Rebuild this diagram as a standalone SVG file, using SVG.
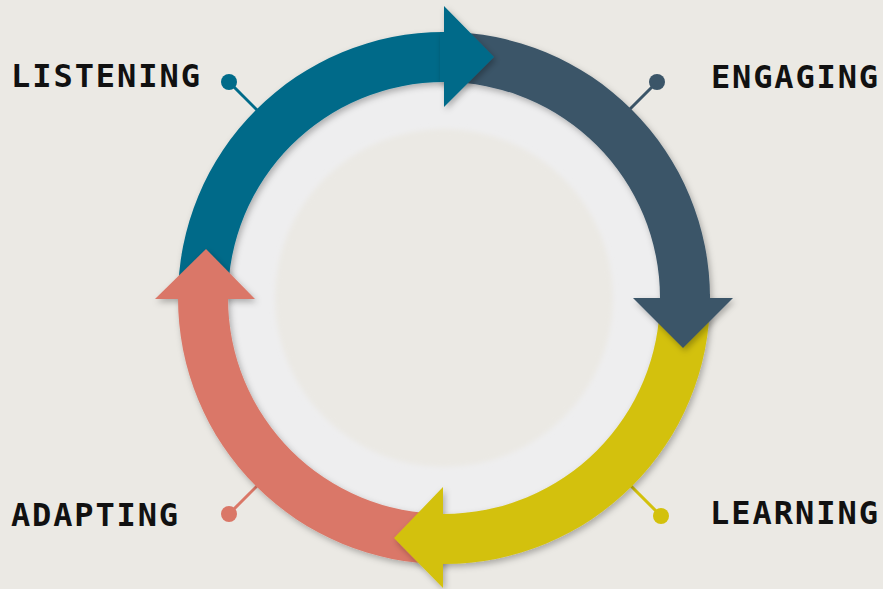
<svg xmlns="http://www.w3.org/2000/svg" width="883" height="589" viewBox="0 0 883 589">
<defs>
<filter id="sh" x="-20%" y="-20%" width="140%" height="140%">
<feDropShadow dx="2" dy="3" stdDeviation="3" flood-color="#000" flood-opacity="0.28"/>
</filter>
<filter id="soft" x="-10%" y="-10%" width="120%" height="120%">
<feGaussianBlur stdDeviation="2.5"/>
</filter>
<style>
.lbl{font-family:"DejaVu Sans Mono","Liberation Mono",monospace;font-weight:bold;font-size:32px;fill:#111}
.blue{fill:#006B89}.dark{fill:#3B5568}.yel{fill:#D3C10C}.sal{fill:#DA7767}
.ln{stroke-width:3;fill:none}
</style>
</defs>
<rect width="883" height="589" fill="#EBE9E4"/>
<g id="hub">
<circle cx="444" cy="298" r="240" fill="#EEEEEF" filter="url(#sh)"/>
<circle cx="444" cy="298" r="169" fill="#EBE9E4" filter="url(#soft)"/>
</g>
<g id="connectors">
<line class="ln" x1="229" y1="82" x2="272" y2="125" stroke="#006B89"/>
<circle cx="229" cy="82" r="8" fill="#006B89"/>
<line class="ln" x1="657" y1="82" x2="614" y2="125" stroke="#3B5568"/>
<circle cx="657" cy="82" r="8" fill="#3B5568"/>
<line class="ln" x1="661" y1="516" x2="616" y2="471" stroke="#D3C10C"/>
<circle cx="661" cy="516" r="8" fill="#D3C10C"/>
<line class="ln" x1="229" y1="514" x2="273" y2="470" stroke="#DA7767"/>
<circle cx="229" cy="514" r="8" fill="#DA7767"/>
</g>
<g id="listening-band">
<path class="blue" filter="url(#sh)" d="M178 298 A266 266 0 0 1 444 32 L444 82 A216 216 0 0 0 228 298 Z"/>
</g>
<g id="adapting">
<g filter="url(#sh)">
<path class="sal" d="M444 564 A266 266 0 0 1 178 298 L228 298 A216 216 0 0 0 444 514 Z"/>
<path class="sal" d="M155 299 L255 299 L206 249 Z"/>
</g>
<text class="lbl" x="11" y="526" textLength="167">ADAPTING</text>
</g>
<g id="learning">
<g filter="url(#sh)">
<path class="yel" d="M710 298 A266 266 0 0 1 444 564 L444 514 A216 216 0 0 0 660 298 Z"/>
<path class="yel" d="M443 487 L443 514 L447 514 L447 564 L443 564 L443 588 L394 538 Z"/>
</g>
<text class="lbl" x="710" y="524" textLength="168">LEARNING</text>
</g>
<g id="engaging">
<g filter="url(#sh)">
<path class="dark" d="M444 32 A266 266 0 0 1 710 298 L660 298 A216 216 0 0 0 444 82 Z"/>
<path class="dark" d="M633 298 L660 298 L660 294 L710 294 L710 298 L733 298 L683 348 Z"/>
</g>
<text class="lbl" x="711" y="88" textLength="167">ENGAGING</text>
</g>
<g id="listening">
<path class="blue" filter="url(#sh)" d="M444 6 L494 57 L444 107 L444 82 L440 82 L440 32 L444 32 Z"/>
<text class="lbl" x="11" y="87" textLength="189">LISTENING</text>
</g>
</svg>
